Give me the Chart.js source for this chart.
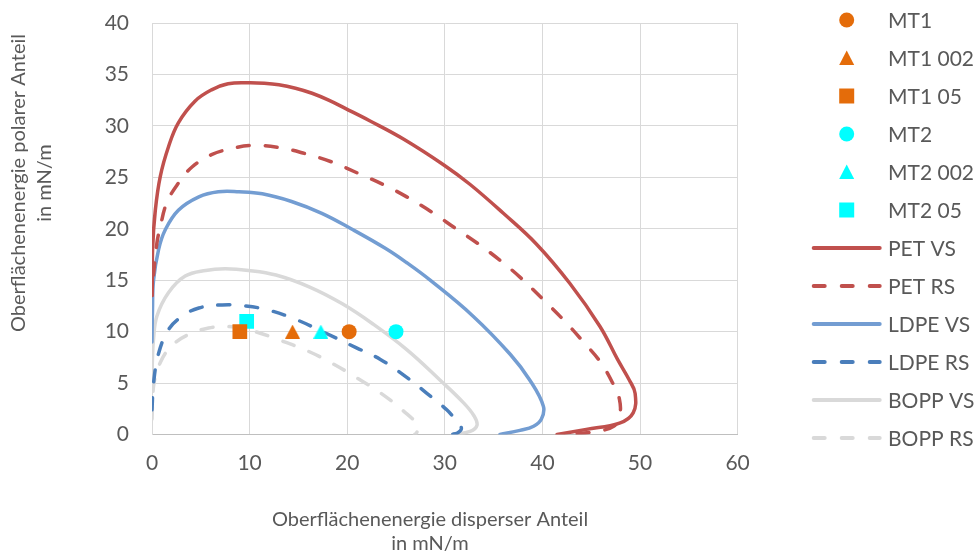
<!DOCTYPE html>
<html>
<head>
<meta charset="utf-8">
<script src="https://cdn.jsdelivr.net/npm/chart.js@4/dist/chart.umd.min.js"></script>
<style>
html,body{margin:0;padding:0;background:#ffffff;}
#wrap{width:975px;height:553px;position:relative;}
</style>
</head>
<body>
<div id="wrap"><canvas id="c" width="975" height="553"></canvas></div>
<script>
// ---------- data ----------
const xTicks = [0, 10, 20, 30, 40, 50, 60];
const yTicks = [0, 5, 10, 15, 20, 25, 30, 35, 40];

const markerNames = ['MT1', 'MT1 002', 'MT1 05', 'MT2', 'MT2 002', 'MT2 05'];
const markerX = [20.2, 14.4, 9.0, 25.0, 17.3, 9.7];
const markerY = [10.0, 10.0, 10.0, 10.0, 10.0, 11.0];

const curveNames = ['PET VS', 'PET RS', 'LDPE VS', 'LDPE RS', 'BOPP VS', 'BOPP RS'];

const petVS = [[0.02,13.5],[0.06,18.0],[0.34,21.8],[0.85,25.1],[1.7,28.0],[2.7,30.3],[4.4,32.4],[6.1,33.5],[7.8,34.1],[9.9,34.2],[11.5,34.15],[13.0,34.0],[14.7,33.66],[16.4,33.17],[18.1,32.5],[19.8,31.7],[22.3,30.5],[25.8,28.7],[29.9,26.2],[32.6,24.3],[36.0,21.5],[39.4,18.5],[42.8,14.7],[45.9,10.5],[47.7,7.3],[48.9,5.3],[49.5,4.0],[49.3,2.1],[47.9,1.1],[44.5,0.5],[41.5,0.0]];
const petRS = [[0.15,15.5],[0.5,18.6],[0.85,20.2],[1.5,22.5],[2.6,24.3],[4.1,26.0],[6.1,27.2],[8.2,27.8],[10.2,28.1],[13.0,27.9],[15.7,27.3],[18.4,26.5],[21.1,25.4],[23.9,24.2],[26.1,23.1],[28.7,21.6],[31.0,20.1],[33.4,18.55],[35.7,16.9],[37.7,15.3],[40.1,13.1],[42.1,11.2],[44.2,9.0],[45.9,7.1],[47.2,5.0],[47.9,3.4],[47.9,1.8],[47.3,0.8],[45.5,0.3],[42.5,0.0]];
const ldpeVS = [[0.0,9.0],[0.05,12.1],[0.16,15.0],[0.68,18.0],[1.36,19.9],[2.7,21.8],[4.8,23.1],[6.8,23.6],[8.9,23.6],[11.3,23.4],[14.3,22.65],[17.4,21.5],[20.4,20.0],[23.9,18.1],[26.1,16.7],[28.5,15.0],[32.9,11.5],[36.7,7.8],[38.7,5.3],[40.1,2.75],[39.9,1.5],[39.1,0.8],[37.7,0.4],[35.65,0.0]];
const ldpeRS = [[0.0,2.4],[0.16,5.0],[0.68,7.9],[1.7,10.2],[3.1,11.5],[4.8,12.3],[7.2,12.6],[9.5,12.5],[11.9,12.1],[14.7,11.2],[17.7,9.9],[21.0,8.4],[23.4,7.3],[25.75,5.8],[28.1,4.05],[30.2,2.4],[31.2,1.3],[31.7,0.6],[31.3,0.15],[30.6,0.0]];
const boppVS = [[0.0,5.5],[0.05,7.5],[0.15,9.2],[0.5,11.5],[1.7,13.8],[3.4,15.4],[5.5,15.95],[7.5,16.1],[9.9,15.95],[12.7,15.5],[16.1,14.35],[19.5,12.7],[22.7,10.7],[26.1,8.25],[29.5,5.3],[31.9,3.1],[33.0,1.8],[33.3,0.9],[32.6,0.3],[30.8,0.0]];
const boppRS = [[0.0,1.5],[0.16,4.7],[0.85,7.0],[2.0,8.6],[3.7,9.7],[5.8,10.35],[7.8,10.5],[10.2,10.1],[13.0,9.2],[16.0,8.1],[18.5,6.9],[21.0,5.5],[23.4,4.05],[25.75,2.3],[27.3,0.8],[27.1,0.15],[26.9,0.0]];

const xTitle = ['Oberflächenenergie disperser Anteil', 'in mN/m'];
const yTitle = ['Oberflächenenergie polarer Anteil', 'in mN/m'];

// ---------- styles ----------
const ORANGE = '#E46C0A';
const CYAN = '#00FFFF';
const markerColors = [ORANGE, ORANGE, ORANGE, CYAN, CYAN, CYAN];
const markerShapes = ['circle', 'triangle', 'rect', 'circle', 'triangle', 'rect'];
const curveColors = ['#C0504D', '#C0504D', '#739DD2', '#4A7EBB', '#D9D9D9', '#D9D9D9'];
const curveDashed = [false, true, false, true, false, true];
const curveData = [petVS, petRS, ldpeVS, ldpeRS, boppVS, boppRS];
const TXT = '#595959';
const FONT = 'Lato, "Open Sans", sans-serif';

function triangleCanvas(color, w, h) {
  const c = document.createElement('canvas');
  c.width = w; c.height = h;
  const g = c.getContext('2d');
  g.fillStyle = color;
  g.beginPath();
  g.moveTo(w / 2, 0);
  g.lineTo(w, h);
  g.lineTo(0, h);
  g.closePath();
  g.fill();
  return c;
}

function markerStyle(shape, color) {
  if (shape === 'triangle') return { pointStyle: triangleCanvas(color, 15, 14), pointRadius: 8 };
  if (shape === 'rect') return { pointStyle: 'rect', pointRadius: 10.4 };
  return { pointStyle: 'circle', pointRadius: 7.5 };
}

const datasets = [];
markerNames.forEach((name, i) => {
  const st = markerStyle(markerShapes[i], markerColors[i]);
  datasets.push({
    label: name,
    data: [{ x: markerX[i], y: markerY[i] }],
    showLine: false,
    pointStyle: st.pointStyle,
    pointRadius: st.pointRadius,
    pointHoverRadius: st.pointRadius,
    pointBackgroundColor: markerColors[i],
    pointBorderColor: markerColors[i],
    pointBorderWidth: 0,
    backgroundColor: markerColors[i],
    borderColor: markerColors[i]
  });
});
curveNames.forEach((name, i) => {
  datasets.push({
    label: name,
    data: curveData[i].map(p => ({ x: p[0], y: p[1] })),
    showLine: true,
    fill: false,
    tension: 0.4,
    pointRadius: 0,
    pointHoverRadius: 0,
    borderColor: curveColors[i],
    backgroundColor: curveColors[i],
    borderWidth: 3.5,
    borderCapStyle: 'round',
    borderJoinStyle: 'round',
    borderDash: curveDashed[i] ? [12, 16] : []
  });
});

// ---------- custom legend + axis titles ----------
const extras = {
  id: 'extras',
  afterDraw(chart) {
    const ctx = chart.ctx;
    ctx.save();
    // axis titles
    ctx.fillStyle = TXT;
    ctx.textAlign = 'center';
    ctx.textBaseline = 'middle';
    ctx.font = '20px ' + FONT;
    ctx.fillText(xTitle[0], 430, 520);
    ctx.fillText(xTitle[1], 430, 544);
    ctx.save();
    ctx.translate(19, 183);
    ctx.rotate(-Math.PI / 2);
    ctx.fillText(yTitle[0], 0, 0);
    ctx.restore();
    ctx.save();
    ctx.translate(45, 183);
    ctx.rotate(-Math.PI / 2);
    ctx.fillText(yTitle[1], 0, 0);
    ctx.restore();

    // legend
    const labels = markerNames.concat(curveNames);
    const y0 = 20, dy = 38, cx = 846.7, lx0 = 811.7, lx1 = 881.7, tx = 888;
    ctx.font = '21px ' + FONT;
    ctx.textAlign = 'left';
    labels.forEach((lab, i) => {
      const y = y0 + dy * i;
      if (i < markerNames.length) {
        const col = markerColors[i];
        ctx.fillStyle = col;
        ctx.beginPath();
        if (markerShapes[i] === 'circle') {
          ctx.arc(cx, y, 7.5, 0, Math.PI * 2);
        } else if (markerShapes[i] === 'triangle') {
          ctx.moveTo(cx, y - 7.5);
          ctx.lineTo(cx + 7.5, y + 7);
          ctx.lineTo(cx - 7.5, y + 7);
          ctx.closePath();
        } else {
          ctx.rect(cx - 7.5, y - 7.5, 15, 15);
        }
        ctx.fill();
      } else {
        const k = i - markerNames.length;
        ctx.strokeStyle = curveColors[k];
        ctx.lineWidth = 4;
        ctx.lineCap = 'round';
        ctx.setLineDash(curveDashed[k] ? [11, 17] : []);
        ctx.beginPath();
        ctx.moveTo(lx0 + 2, y);
        ctx.lineTo(lx1 - 2, y);
        ctx.stroke();
        ctx.setLineDash([]);
      }
      ctx.fillStyle = TXT;
      ctx.fillText(lab, tx, y + 1);
    });
    ctx.restore();
  }
};

new Chart(document.getElementById('c'), {
  type: 'scatter',
  data: { datasets },
  options: {
    responsive: false,
    animation: false,
    events: [],
    layout: { padding: { left: 0, right: 237.4, top: 23, bottom: 0 }, autoPadding: false },
    plugins: { legend: { display: false }, tooltip: { enabled: false } },
    scales: {
      x: {
        type: 'linear',
        min: xTicks[0], max: xTicks[xTicks.length - 1],
        afterBuildTicks: s => { s.ticks = xTicks.map(v => ({ value: v })); },
        ticks: { color: TXT, font: { family: FONT, size: 21 }, padding: 16 },
        grid: { color: '#D9D9D9', lineWidth: 1, drawTicks: false },
        border: { color: '#BFBFBF', width: 1 },
        afterFit: s => { s.height = 118.5; s.paddingLeft = 0; s.paddingRight = 0; }
      },
      y: {
        type: 'linear',
        min: yTicks[0], max: yTicks[yTicks.length - 1],
        afterBuildTicks: s => { s.ticks = yTicks.map(v => ({ value: v })); },
        ticks: { color: TXT, font: { family: FONT, size: 21 }, padding: 23 },
        grid: { color: '#D9D9D9', lineWidth: 1, drawTicks: false },
        border: { color: '#D9D9D9', width: 1 },
        afterFit: s => { s.width = 152; s.paddingTop = 0; s.paddingBottom = 0; }
      }
    }
  },
  plugins: [extras]
});
</script>
</body>
</html>
